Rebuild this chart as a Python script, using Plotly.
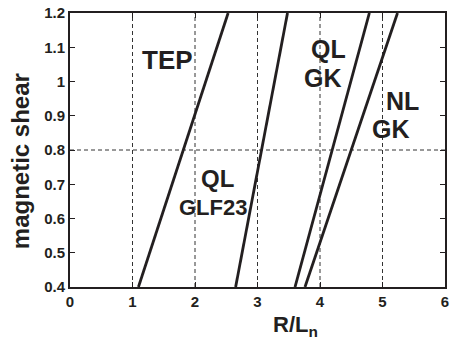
import plotly.graph_objects as go

# Threshold lines: R/L_n at magnetic shear 0.4 and 1.2
shear_ends = [0.4, 1.2]
tep_rln = [1.095, 2.53]
glf23_rln = [2.65, 3.48]
qlgk_rln = [3.60, 4.79]
nlgk_rln = [3.76, 5.24]

x_ticks = [0, 1, 2, 3, 4, 5, 6]
y_ticks = [0.4, 0.5, 0.6, 0.7, 0.8, 0.9, 1.0, 1.1, 1.2]
y_tick_text = ["0.4", "0.5", "0.6", "0.7", "0.8", "0.9", "1", "1.1", "1.2"]
x_grid = [1, 2, 3, 4, 5]
y_grid = [0.8]

# (x, y, text, font size)
labels = [
    (1.556, 1.063, "TEP", 26),
    (2.365, 0.716, "QL", 24),
    (2.29, 0.633, "GLF23", 22),
    (4.135, 1.095, "QL", 25),
    (4.055, 1.009, "GK", 25),
    (5.317, 0.944, "NL", 25),
    (5.135, 0.862, "GK", 25),
]

FONT = "Liberation Sans"
INK = "#231f20"

fig = go.Figure()
for xs in (tep_rln, glf23_rln, qlgk_rln, nlgk_rln):
    fig.add_trace(go.Scatter(x=xs, y=shear_ends, mode="lines",
                             line=dict(color=INK, width=2.8),
                             showlegend=False, hoverinfo="skip"))

shapes = []
for gx in x_grid:
    shapes.append(dict(type="line", xref="x", yref="y", x0=gx, x1=gx, y0=0.4, y1=1.2,
                       line=dict(color="#333", width=1, dash="4px,3px"), layer="below"))
for gy in y_grid:
    shapes.append(dict(type="line", xref="x", yref="y", x0=0, x1=6, y0=gy, y1=gy,
                       line=dict(color="#333", width=1, dash="4px,3px"), layer="below"))

for x, y, t, s in labels:
    fig.add_annotation(x=x, y=y, text=t, showarrow=False,
                       font=dict(family=FONT, size=s, color=INK, weight="bold"))

# Axis titles
fig.add_annotation(x=3.6, xref="x", y=-0.085, yref="paper", yanchor="top",
                   xanchor="center", text="R/L<sub>n</sub>", showarrow=False,
                   font=dict(family=FONT, size=22, color=INK, weight="bold"))
fig.add_annotation(x=-0.13, xref="paper", y=0.46, yref="paper", textangle=-90,
                   xanchor="center", yanchor="middle",
                   text="magnetic shear", showarrow=False,
                   font=dict(family=FONT, size=24, color=INK, weight="bold"))

tick_font = dict(size=15, family=FONT, color=INK, weight="bold")

fig.update_layout(
    width=453, height=348,
    margin=dict(l=70, r=4, t=10, b=61),
    paper_bgcolor="white", plot_bgcolor="white",
    shapes=shapes,
    font=dict(family=FONT, color=INK),
    xaxis=dict(range=[0, 6], tickvals=x_ticks, ticktext=[str(v) for v in x_ticks],
               showgrid=False, zeroline=False, showline=True, linecolor=INK,
               linewidth=2, mirror="ticks", ticks="inside", ticklen=5,
               tickcolor=INK, tickfont=tick_font),
    yaxis=dict(range=[0.4, 1.2], tickvals=y_ticks, ticktext=y_tick_text,
               showgrid=False, zeroline=False, showline=True, linecolor=INK,
               linewidth=2, mirror="ticks", ticks="inside", ticklen=5,
               tickcolor=INK, tickfont=tick_font),
)

fig.write_html("out.html")
